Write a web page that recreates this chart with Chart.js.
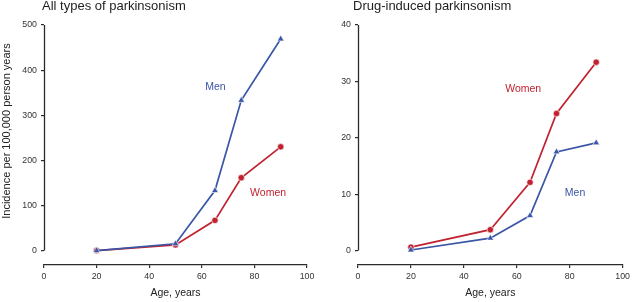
<!DOCTYPE html>
<html>
<head>
<meta charset="utf-8">
<script src="https://cdn.jsdelivr.net/npm/chart.js@4.4.1/dist/chart.umd.min.js"></script>
<style>
  html, body { margin: 0; padding: 0; background: #fff; }
  #wrap { position: relative; width: 633px; height: 302px; overflow: hidden; }
  .panel { position: absolute; top: 0; }
</style>
</head>
<body>
<div id="wrap">
  <div class="panel" style="left:0;width:320px;height:302px;"><canvas id="c1" width="320" height="302"></canvas></div>
  <div class="panel" style="left:320px;width:313px;height:302px;"><canvas id="c2" width="313" height="302"></canvas></div>
</div>
<script>
// ---- data ----
const ages = [20, 50, 65, 75, 90];
const allMen = [0, 15, 133, 333, 469];
const allWomen = [0, 12.6, 67, 161.5, 230];
const drugMen = [0.1, 2.2, 6.2, 17.5, 19.1];
const drugWomen = [0.6, 3.7, 12.1, 24.3, 33.4];
const xTicks = [0, 20, 40, 60, 80, 100];
const yTicksAll = [0, 100, 200, 300, 400, 500];
const yTicksDrug = [0, 10, 20, 30, 40];
const panelTitles = ['All types of parkinsonism', 'Drug-induced parkinsonism'];
const seriesNames = ['Men', 'Women'];
const xTitle = 'Age, years';
const yTitle = 'Incidence per 100,000 person years';

const BLUE = '#3a56a6';
const RED = '#c1222f';
const FONT = "'Liberation Sans', Arial, Helvetica, sans-serif";

const pts = (ys) => ages.map((a, i) => ({ x: a, y: ys[i] }));

const decor = {
  id: 'decor',
  afterDraw(chart, args, o) {
    const ctx = chart.ctx;
    const xs = chart.scales.x, ys = chart.scales.y;
    ctx.save();
    // detached y axis line from 0 to max
    ctx.strokeStyle = '#2a2a2a';
    ctx.lineWidth = 1.3;
    ctx.beginPath();
    const lx = Math.round(chart.chartArea.left) + 0.5;
    ctx.moveTo(lx, ys.getPixelForValue(0));
    ctx.lineTo(lx, ys.getPixelForValue(o.yMax));
    ctx.stroke();
    // panel title
    ctx.fillStyle = '#1e1e1e';
    ctx.font = '13px ' + FONT;
    ctx.textAlign = 'left';
    ctx.textBaseline = 'alphabetic';
    ctx.fillText(o.title, o.titleX, 10);
    // y axis title
    if (o.yTitle) {
      ctx.save();
      ctx.translate(7, 131);
      ctx.rotate(-Math.PI / 2);
      ctx.font = '11px ' + FONT;
      ctx.fillStyle = '#222';
      ctx.textAlign = 'center';
      ctx.textBaseline = 'middle';
      ctx.fillText(o.yTitle, 0, 0);
      ctx.restore();
    }
    // series labels
    ctx.font = '10.5px ' + FONT;
    ctx.textAlign = 'center';
    ctx.textBaseline = 'middle';
    o.labels.forEach(l => {
      ctx.fillStyle = l.color;
      ctx.fillText(l.text, xs.getPixelForValue(l.x), ys.getPixelForValue(l.y));
    });
    ctx.restore();
  }
};

function makeChart(id, men, women, yTicks, yMin, opts) {
  const yMax = yTicks[yTicks.length - 1];
  return new Chart(document.getElementById(id), {
    type: 'line',
    data: {
      datasets: [
        { label: seriesNames[0], data: pts(men), borderColor: BLUE, backgroundColor: BLUE,
          pointStyle: 'triangle', pointRadius: 3.9, pointBorderColor: '#ffffff', pointBorderWidth: 0.6,
          borderWidth: 1.7, tension: 0 },
        { label: seriesNames[1], data: pts(women), borderColor: RED, backgroundColor: RED,
          pointStyle: 'circle', pointRadius: 3.2, pointBorderColor: '#ffffff', pointBorderWidth: 0.6,
          borderWidth: 1.7, tension: 0 }
      ]
    },
    options: {
      responsive: false,
      animation: false,
      devicePixelRatio: 1,
      layout: { padding: { top: 25, right: opts.padRight, left: 0, bottom: 0 } },
      plugins: {
        legend: { display: false },
        title: { display: false },
        tooltip: { enabled: false },
        decor: { yMax: yMax, title: opts.title, titleX: opts.titleX, labels: opts.labels, yTitle: opts.yTitle }
      },
      scales: {
        x: {
          type: 'linear', min: 0, max: 100,
          afterBuildTicks: s => { s.ticks = xTicks.map(v => ({ value: v })); },
          afterFit: s => { s.height = 37; },
          ticks: { color: '#333', font: { family: FONT, size: 8.8 }, padding: 3, maxRotation: 0 },
          grid: { drawOnChartArea: false, drawTicks: true, tickLength: 3, color: '#2a2a2a', lineWidth: 1.2 },
          border: { display: true, color: '#2a2a2a', width: 1.3 },
          title: { display: true, text: xTitle, color: '#222', font: { family: FONT, size: 10.5 }, padding: { top: 0, bottom: 3 } }
        },
        y: {
          type: 'linear', min: yMin, max: yMax,
          afterBuildTicks: s => { s.ticks = yTicks.map(v => ({ value: v })); },
          afterFit: s => { s.width = opts.yWidth; },
          ticks: { color: '#333', font: { family: FONT, size: 8.8 }, padding: 4 },
          grid: { drawOnChartArea: false, drawTicks: true, tickLength: 3, color: '#2a2a2a', lineWidth: 1.2 },
          border: { display: false },
          title: { display: false }
        }
      }
    },
    plugins: [decor]
  });
}

makeChart('c1', allMen, allWomen, yTicksAll, -32, {
  padRight: 13, yWidth: 44, yTitle: yTitle, title: panelTitles[0], titleX: 42,
  labels: [
    { text: seriesNames[0], x: 65.2, y: 362, color: BLUE },
    { text: seriesNames[1], x: 85.2, y: 127, color: RED }
  ]
});
makeChart('c2', drugMen, drugWomen, yTicksDrug, -2.56, {
  padRight: 6.3, yWidth: 38, yTitle: null, title: panelTitles[1], titleX: 33,
  labels: [
    { text: seriesNames[1], x: 62.4, y: 28.7, color: RED },
    { text: seriesNames[0], x: 82, y: 10.1, color: BLUE }
  ]
});
</script>
</body>
</html>
